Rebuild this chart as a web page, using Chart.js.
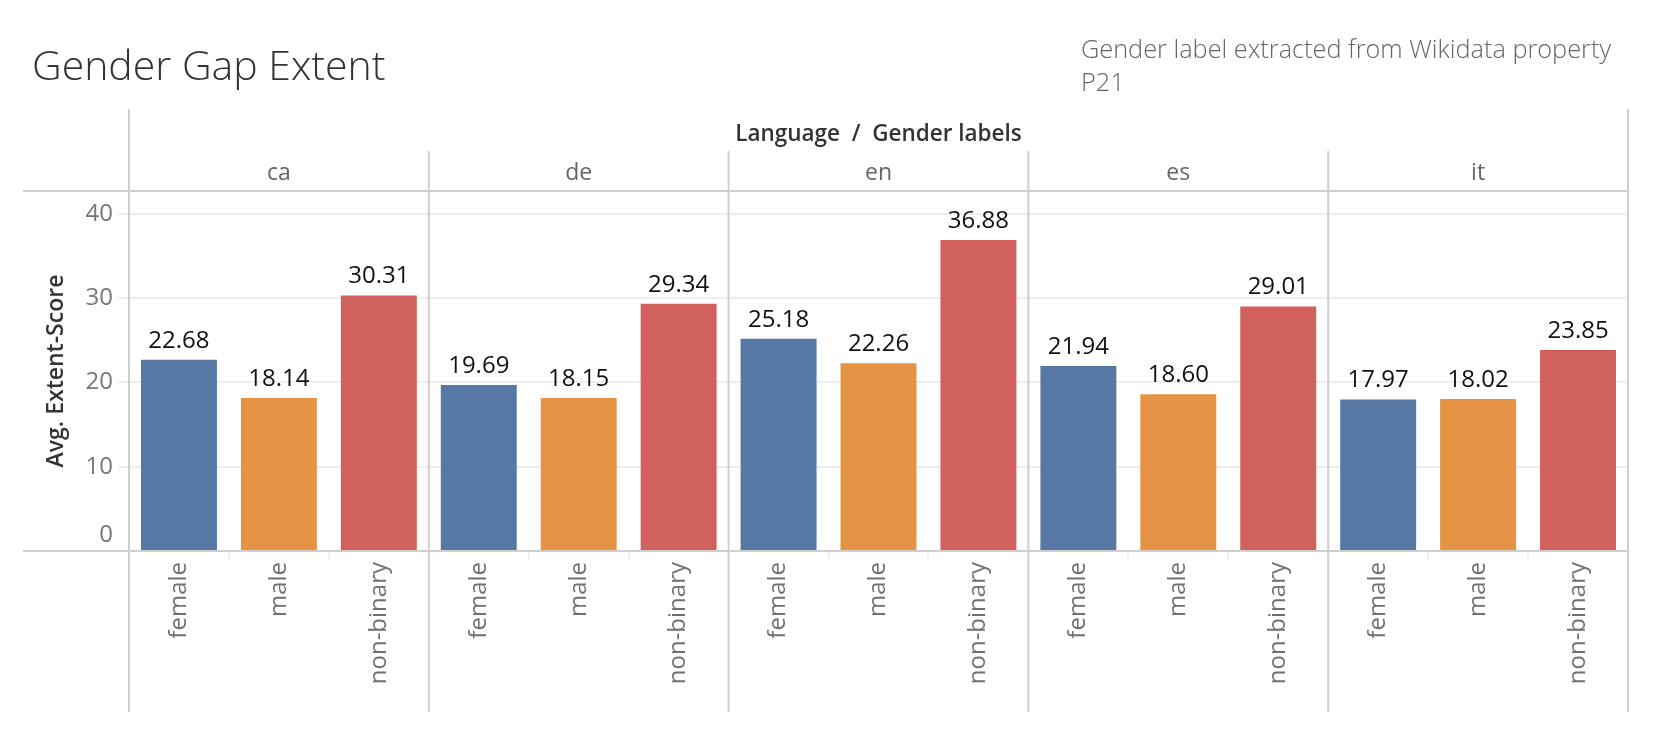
<!DOCTYPE html>
<html lang="en">
<head>
  <meta charset="UTF-8" />
  <title>Gender Gap Extent</title>
  <script src="https://cdn.jsdelivr.net/npm/chart.js"></script>
  <style>
    body {
      margin: 0;
      background: #fff;
      font-family: 'Open Sans', sans-serif;
    }
    #wrap {
      position: relative;
      width: 1654px;
      height: 738px;
    }
    h1 {
      position: absolute;
      left: 32px;
      top: 36px;
      margin: 0;
      font-size: 41px;
      line-height: 56px;
      font-weight: 300;
      color: #333;
    }
    .note {
      position: absolute;
      left: 1081px;
      top: 32px;
      width: 545px;
      font-size: 25.3px;
      line-height: 33px;
      font-weight: 300;
      color: #666;
    }
    canvas {
      position: absolute;
      left: 0;
      top: 0;
    }
  </style>
</head>
<body>
  <div id="wrap">
    <canvas id="gapChart"></canvas>
    <h1>Gender Gap Extent</h1>
    <div class="note">Gender label extracted from Wikidata property P21</div>
  </div>

  <script>
    const languages = ['ca', 'de', 'en', 'es', 'it'];
    const genders = ['female', 'male', 'non-binary'];
    // avg extent score per language, one array per gender label
    const female = [22.68, 19.69, 25.18, 21.94, 17.97];
    const male = [18.14, 18.15, 22.26, 18.60, 18.02];
    const nonBinary = [30.31, 29.34, 36.88, 29.01, 23.85];
    const yTicks = [0, 10, 20, 30, 40];

    const genderColors = ['#5778a4', '#e49444', '#d1615d'];
    const series = [female, male, nonBinary];

    // one bar per language/gender pair
    const labels = [];
    const values = [];
    const colors = [];
    languages.forEach((lang, i) => {
      genders.forEach((g, j) => {
        labels.push(lang + ' / ' + g);
        values.push(series[j][i]);
        colors.push(genderColors[j]);
      });
    });

    const FONT = "'Open Sans', sans-serif";
    const LINE = '#cfcfcf';

    const panelPlugin = {
      id: 'panels',
      beforeDatasetsDraw(chart) {
        const { ctx, chartArea: a, scales: { x, y } } = chart;
        const step = x.getPixelForValue(1) - x.getPixelForValue(0);
        ctx.save();
        ctx.strokeStyle = LINE;
        ctx.lineWidth = 2;
        // top and bottom rules of the plot
        [a.top, a.bottom].forEach(py => {
          ctx.beginPath();
          ctx.moveTo(23, py);
          ctx.lineTo(a.right, py);
          ctx.stroke();
        });
        // panel separators
        for (let i = 0; i <= languages.length; i++) {
          const px = x.getPixelForValue(i * genders.length) - step / 2;
          const outer = i === 0 || i === languages.length;
          ctx.beginPath();
          ctx.moveTo(px, outer ? a.top - 82 : a.top - 40);
          ctx.lineTo(px, a.bottom + 161);
          ctx.stroke();
        }
        // headers
        ctx.textAlign = 'center';
        ctx.textBaseline = 'alphabetic';
        ctx.fillStyle = '#333';
        ctx.font = '600 22.5px ' + FONT;
        ctx.fillText('Language  /  Gender labels', (a.left + a.right) / 2, a.top - 50);
        ctx.fillStyle = '#666';
        ctx.font = '23px ' + FONT;
        languages.forEach((lang, i) => {
          const cx = x.getPixelForValue(i * genders.length + 1);
          ctx.fillText(lang, cx, a.top - 11);
        });
        // the zero label sits just above the axis rule
        ctx.fillStyle = '#777';
        ctx.font = '24px ' + FONT;
        ctx.textAlign = 'right';
        ctx.textBaseline = 'middle';
        ctx.fillText('0', y.right - 16, y.getPixelForValue(0) - 16);
        ctx.restore();
      },
      afterDatasetsDraw(chart) {
        const { ctx } = chart;
        const meta = chart.getDatasetMeta(0);
        ctx.save();
        ctx.fillStyle = '#111';
        ctx.font = '24px ' + FONT;
        ctx.textAlign = 'center';
        ctx.textBaseline = 'alphabetic';
        meta.data.forEach((bar, i) => {
          ctx.fillText(values[i].toFixed(2), bar.x, bar.y - 12);
        });
        ctx.restore();
      }
    };

    new Chart(document.getElementById('gapChart'), {
      type: 'bar',
      data: {
        labels,
        datasets: [{
          data: values,
          backgroundColor: colors,
          barPercentage: 0.76,
          categoryPercentage: 1.0
        }]
      },
      options: {
        responsive: true,
        maintainAspectRatio: false,
        animation: false,
        layout: { padding: { top: 191, right: 26, left: 0, bottom: 0 } },
        plugins: {
          legend: { display: false },
          tooltip: { enabled: false }
        },
        scales: {
          x: {
            afterFit: s => { s.height = 187; },
            border: { display: false },
            grid: {
              drawOnChartArea: false,
              tickLength: 8,
              lineWidth: 2,
              color: c => (c.index % genders.length === 0 ? 'rgba(0,0,0,0)' : '#eeeeee')
            },
            ticks: {
              autoSkip: false,
              minRotation: 90,
              maxRotation: 90,
              padding: 3,
              color: '#707070',
              font: { family: FONT, size: 24 },
              callback: (v, i) => genders[i % genders.length]
            }
          },
          y: {
            min: 0,
            max: 42.7,
            afterFit: s => { s.width = 129; },
            afterBuildTicks: s => { s.ticks = yTicks.map(v => ({ value: v })); },
            border: { display: false },
            grid: {
              color: c => (c.tick && c.tick.value === 0 ? 'rgba(0,0,0,0)' : '#eeeeee'),
              lineWidth: 2,
              tickLength: 11
            },
            ticks: {
              padding: 5,
              color: '#777',
              font: { family: FONT, size: 24 },
              callback: v => (v === 0 ? '' : v)
            },
            title: {
              display: true,
              text: 'Avg. Extent-Score',
              color: '#333',
              font: { family: FONT, size: 23, weight: '600' },
              padding: { top: 43 }
            }
          }
        }
      },
      plugins: [panelPlugin]
    });
  </script>
</body>
</html>
